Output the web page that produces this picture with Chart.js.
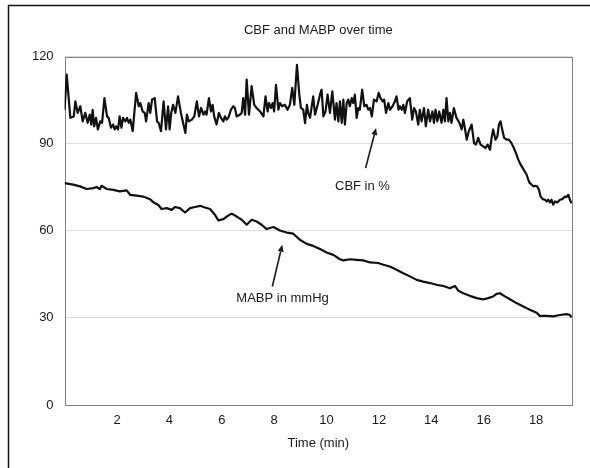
<!DOCTYPE html>
<html>
<head>
<meta charset="utf-8">
<title>CBF and MABP over time</title>
<script src="https://cdn.jsdelivr.net/npm/chart.js@4.4.1/dist/chart.umd.min.js"></script>
<style>
  html, body { margin: 0; padding: 0; background: #fff; }
  #chart { display: block; }
</style>
</head>
<body>
<canvas id="chart" width="590" height="468"></canvas>
<script>
// time axis (minutes) and readings
const xTicks = [2, 4, 6, 8, 10, 12, 14, 16, 18];
const yTicks = [0, 30, 60, 90, 120];

const cbfTime = [
  0.00, 0.08, 0.22, 0.35, 0.41, 0.50, 0.60, 0.69, 0.79, 0.88,
  0.96, 1.02, 1.07, 1.13, 1.20, 1.27, 1.36, 1.43, 1.52, 1.62,
  1.68, 1.77, 1.85, 1.91, 1.97, 2.04, 2.10, 2.17, 2.23, 2.32,
  2.38, 2.45, 2.51, 2.60, 2.73, 2.83, 2.89, 2.98, 3.06, 3.11,
  3.21, 3.27, 3.34, 3.44, 3.53, 3.59, 3.68, 3.78, 3.87, 3.95,
  4.01, 4.07, 4.14, 4.23, 4.33, 4.44, 4.61, 4.67, 4.74, 4.86,
  4.95, 5.05,
  5.13, 5.21, 5.30, 5.36, 5.42, 5.51, 5.59, 5.65, 5.71, 5.80,
  5.89, 5.97, 6.06, 6.12, 6.19, 6.25, 6.35, 6.44, 6.50, 6.57,
  6.69, 6.76, 6.82, 6.89, 6.95, 7.04, 7.14, 7.24, 7.33, 7.46,
  7.59, 7.67, 7.75, 7.80, 7.88, 7.94, 8.00, 8.07, 8.16, 8.22,
  8.31, 8.41, 8.51, 8.60, 8.69, 8.77, 8.87, 8.96, 9.02, 9.11,
  9.18, 9.25, 9.30, 9.37, 9.49, 9.56, 9.66, 9.75, 9.81, 9.88,
  9.96, 10.04, 10.13, 10.22,
  10.32, 10.38, 10.45, 10.51, 10.58, 10.64, 10.70, 10.77, 10.83, 10.89,
  10.96, 11.02, 11.08, 11.15, 11.21, 11.27, 11.36, 11.44, 11.53, 11.59,
  11.66, 11.73, 11.81, 11.91, 11.99, 12.06, 12.14, 12.20, 12.27, 12.36,
  12.42, 12.52, 12.61, 12.67, 12.75, 12.80, 12.87, 12.93, 12.99, 13.08,
  13.18, 13.27, 13.34, 13.41, 13.50, 13.56, 13.63, 13.72, 13.79, 13.88,
  13.95, 14.04, 14.10, 14.16, 14.23, 14.30, 14.39, 14.46, 14.52, 14.58,
  14.65, 14.71, 14.77, 14.86, 14.96, 15.07, 15.16, 15.22, 15.28, 15.35,
  15.43, 15.54, 15.63, 15.70, 15.79, 15.88, 15.98, 16.07, 16.15, 16.24,
  16.30, 16.36, 16.45, 16.52, 16.58, 16.64, 16.72, 16.78, 16.87, 16.96,
  17.06, 17.15, 17.23, 17.32, 17.38, 17.45, 17.53, 17.64, 17.70, 17.76,
  17.83, 17.89, 17.95, 18.04, 18.11, 18.17, 18.25, 18.34, 18.40, 18.46,
  18.53, 18.59, 18.65, 18.72, 18.81, 18.91, 19.00, 19.10, 19.16, 19.23,
  19.29, 19.35
];
const cbfValues = [
  101.7, 113.8, 98.9, 99.4, 104.6, 100.6, 102.9, 97.7, 100.6, 97.2,
  100.0, 96.6, 101.7, 96.0, 98.9, 94.9, 97.7, 97.2, 105.7, 99.4,
  98.9, 95.5, 96.6, 94.9, 96.0, 94.9, 99.4, 95.5, 98.9, 97.7,
  98.9, 97.2, 98.3, 94.3, 107.5, 102.9, 104.0, 101.1, 100.6, 97.7,
  104.0, 100.6, 105.2, 105.7, 97.7, 97.2, 94.3, 104.6, 94.9, 102.9,
  94.9, 100.6, 103.4, 100.6, 106.3, 100.6, 93.7, 100.0, 97.7, 98.3,
  99.4, 104.6,
  99.4, 102.3, 100.0, 101.1, 100.0, 105.7, 101.1, 103.4, 99.4, 96.6,
  100.6, 98.9, 97.7, 99.4, 98.3, 98.9, 101.7, 102.9, 102.3, 99.4,
  100.0, 100.6, 105.7, 100.0, 112.1, 100.0, 109.8, 103.4, 102.3, 101.1,
  99.4, 106.3, 101.1, 104.0, 102.3, 104.0, 101.1, 110.3, 101.7, 104.0,
  102.9, 103.4, 101.7, 103.4, 109.2, 103.4, 117.2, 106.9, 102.3, 101.7,
  97.1, 103.4, 100.6, 98.9, 106.3, 100.0, 103.4, 106.9, 108.6, 99.4,
  101.1, 106.9, 100.6, 108.0,
  98.3, 104.0, 97.7, 104.6, 97.2, 105.2, 96.6, 104.0, 105.2, 102.9,
  105.7, 104.0, 106.9, 98.9, 102.3, 101.7, 108.6, 102.9, 103.4, 101.7,
  102.3, 99.4, 105.2, 104.6, 107.5, 105.7, 104.6, 105.2, 100.6, 104.0,
  101.7, 102.9, 104.6, 106.3, 101.7, 102.9, 101.7, 103.4, 100.6, 104.6,
  105.7, 98.3, 102.3, 101.1, 96.6, 101.7, 97.7, 102.3, 96.0, 101.7,
  97.7, 101.1, 97.2, 101.7, 97.7, 101.1, 97.2, 101.7, 97.7, 105.7,
  97.7, 100.6, 97.2, 102.3, 98.9, 97.2, 94.9, 98.3, 95.5, 91.4,
  94.3, 96.6, 90.2, 89.7, 92.0, 89.7, 89.1, 88.5, 89.7, 87.9,
  92.0, 94.9, 91.4, 92.5, 96.6, 97.7, 94.3, 92.0, 91.4, 91.4,
  90.2, 88.5, 86.8, 84.5, 83.3, 82.2, 81.0, 79.3, 77.6, 76.4,
  75.9, 75.3, 75.5, 75.3, 74.1, 71.8, 70.9, 70.7, 70.1, 70.7,
  69.8, 70.7, 69.0, 70.1, 69.8, 70.7, 70.9, 71.8, 71.6, 72.4,
  70.7, 69.5
];

const mabpTime = [
  0.00, 0.33, 0.59, 0.84, 1.10, 1.22, 1.35, 1.41, 1.61, 1.86,
  2.11, 2.37, 2.50, 2.75, 3.00, 3.26, 3.39, 3.58, 3.70, 3.90,
  4.09, 4.21, 4.40, 4.60, 4.79, 4.98, 5.17, 5.30, 5.55, 5.74,
  5.87, 6.06, 6.19, 6.38, 6.57, 6.76, 6.95, 7.14, 7.33, 7.52,
  7.71, 7.97, 8.22, 8.48, 8.73, 8.98, 9.24, 9.49, 9.75, 10.00,
  10.26, 10.51, 10.64, 10.89, 11.15, 11.40, 11.66, 11.97, 12.17, 12.42,
  12.67, 12.93, 13.18, 13.44, 13.69, 13.95, 14.20, 14.46, 14.71, 14.90,
  15.03, 15.22, 15.47, 15.73, 15.98, 16.17, 16.36, 16.49, 16.62, 16.81,
  17.00, 17.25, 17.51, 17.76, 18.02, 18.14, 18.40, 18.65, 18.91, 19.16,
  19.29, 19.35
];
const mabpValues = [
  76.4, 75.9, 75.3, 74.4, 74.7, 75.1, 74.4, 75.5, 74.4, 74.1,
  73.6, 73.9, 72.4, 72.1, 71.8, 70.9, 69.8, 68.9, 67.5, 67.8,
  67.2, 68.2, 67.8, 66.3, 67.8, 68.2, 68.6, 68.2, 67.5, 65.5,
  63.6, 64.0, 64.9, 65.9, 64.9, 63.8, 62.1, 63.8, 63.2, 62.1,
  60.6, 61.3, 60.1, 59.4, 59.0, 56.9, 55.5, 54.8, 53.7, 52.5,
  51.7, 50.2, 49.8, 50.2, 50.0, 49.8, 49.1, 48.9, 48.3, 47.7,
  46.6, 45.4, 44.3, 43.1, 42.5, 42.0, 41.4, 41.0, 40.2, 41.0,
  39.4, 38.5, 37.6, 36.8, 36.4, 36.8, 37.4, 38.3, 38.5, 37.4,
  36.4, 35.1, 33.9, 32.8, 31.8, 30.7, 30.7, 30.5, 31.0, 31.3,
  31.0, 30.2
];

// arrow labels, in data units (minutes, value)
const notes = [
  { text: 'CBF in %', at: [11.37, 75.3], from: [11.49, 81.6], to: [11.89, 95.4] },
  { text: 'MABP in mmHg', at: [8.32, 36.8], from: [7.93, 40.8], to: [8.31, 55.2] }
];

const FONT = '"Liberation Sans", Arial, Helvetica, sans-serif';
const INK = '#1a1a1a';

const toPoints = (xs, ys) => xs.map((t, i) => ({ x: t, y: ys[i] }));

// outer frame, plot box and the two arrow labels
const decorPlugin = {
  id: 'decor',
  beforeDraw(chart) {
    const { ctx, width, height } = chart;
    ctx.save();
    ctx.fillStyle = '#fff';
    ctx.fillRect(0, 0, width, height);
    ctx.strokeStyle = '#111';
    ctx.lineWidth = 1.5;
    ctx.beginPath();
    ctx.moveTo(8.5, height);
    ctx.lineTo(8.5, 5.5);
    ctx.lineTo(width, 5.5);
    ctx.stroke();
    ctx.restore();
  },
  beforeDatasetsDraw(chart) {
    const { ctx, chartArea: a } = chart;
    ctx.save();
    ctx.strokeStyle = '#808080';
    ctx.lineWidth = 1;
    ctx.strokeRect(Math.round(a.left) + 0.5, Math.round(a.top) + 0.5,
      Math.round(a.right - a.left), Math.round(a.bottom - a.top));
    ctx.restore();
  },
  afterDraw(chart) {
    const { ctx, scales: { x, y } } = chart;
    ctx.save();
    ctx.fillStyle = INK;
    ctx.strokeStyle = INK;
    ctx.font = '13px ' + FONT;
    ctx.textAlign = 'center';
    ctx.textBaseline = 'middle';
    notes.forEach(n => {
      ctx.fillText(n.text, x.getPixelForValue(n.at[0]), y.getPixelForValue(n.at[1]));
      const x0 = x.getPixelForValue(n.from[0]), y0 = y.getPixelForValue(n.from[1]);
      const x1 = x.getPixelForValue(n.to[0]), y1 = y.getPixelForValue(n.to[1]);
      const ang = Math.atan2(y1 - y0, x1 - x0);
      const len = 7, half = 3;
      const bx = x1 - len * Math.cos(ang), by = y1 - len * Math.sin(ang);
      ctx.lineWidth = 1.6;
      ctx.beginPath();
      ctx.moveTo(x0, y0);
      ctx.lineTo(bx, by);
      ctx.stroke();
      ctx.beginPath();
      ctx.moveTo(x1, y1);
      ctx.lineTo(bx + half * Math.sin(ang), by - half * Math.cos(ang));
      ctx.lineTo(bx - half * Math.sin(ang), by + half * Math.cos(ang));
      ctx.closePath();
      ctx.fill();
    });
    ctx.restore();
  }
};

new Chart(document.getElementById('chart'), {
  type: 'line',
  data: {
    datasets: [
      { label: 'CBF in %', data: toPoints(cbfTime, cbfValues) },
      { label: 'MABP in mmHg', data: toPoints(mabpTime, mabpValues) }
    ]
  },
  options: {
    responsive: false,
    animation: false,
    layout: { padding: { left: 0, right: 18, top: 0, bottom: 0 } },
    elements: {
      line: { borderColor: '#111', borderWidth: 2.2, tension: 0, borderJoinStyle: 'round' },
      point: { radius: 0 }
    },
    plugins: {
      legend: { display: false },
      tooltip: { enabled: false },
      title: {
        display: true,
        text: 'CBF and MABP over time',
        fullSize: false,
        color: INK,
        font: { family: FONT, size: 13, weight: 'normal' },
        padding: { top: 23, bottom: 18 }
      }
    },
    scales: {
      x: {
        type: 'linear',
        min: 0,
        max: 19.37,
        afterBuildTicks: s => { s.ticks = xTicks.map(v => ({ value: v })); },
        afterFit: s => { s.height = 63; },
        grid: { display: false, drawTicks: false },
        border: { display: false },
        ticks: { color: INK, font: { family: FONT, size: 13 }, padding: 8, maxRotation: 0 },
        title: {
          display: true,
          text: 'Time (min)',
          color: INK,
          font: { family: FONT, size: 13 },
          padding: { top: 6, bottom: 17 }
        }
      },
      y: {
        min: 0,
        max: 120,
        afterBuildTicks: s => { s.ticks = yTicks.map(v => ({ value: v })); },
        afterFit: s => { s.width = 64.6; },
        grid: { color: '#dcdcdc', drawTicks: false },
        border: { display: false },
        ticks: { color: INK, font: { family: FONT, size: 13 }, padding: 11 }
      }
    }
  },
  plugins: [decorPlugin]
});
</script>
</body>
</html>
